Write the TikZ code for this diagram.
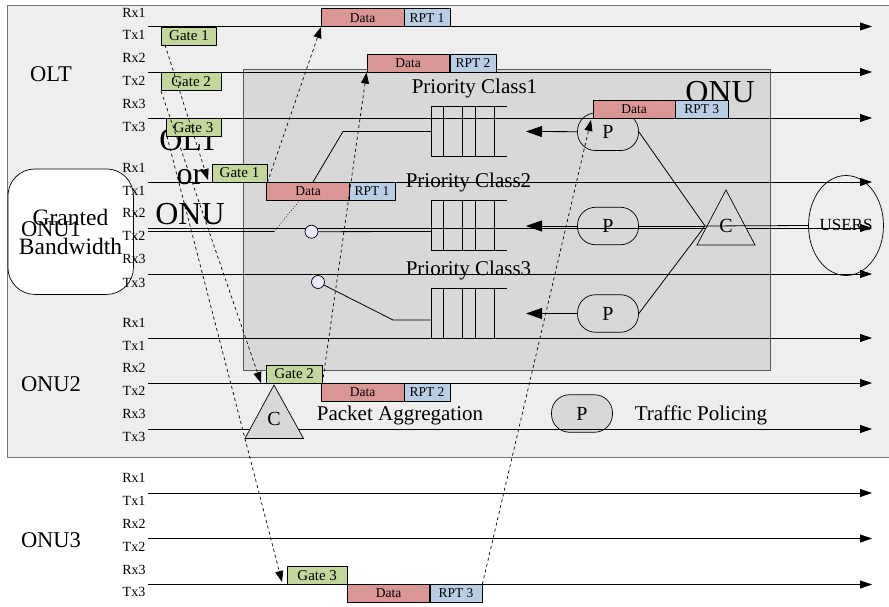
\documentclass[tikz,border=0pt]{standalone}
\usepackage{fontspec}
\setmainfont{Liberation Serif}
\usetikzlibrary{arrows.meta, shapes.geometric}
\definecolor{panelgray}{HTML}{EEEEEE}
\definecolor{onugray}{HTML}{D8D8D8}
\definecolor{gatefill}{HTML}{C3D69B}
\definecolor{datafill}{HTML}{D99694}
\definecolor{rptfill}{HTML}{B9CDE5}
\tikzset{
  txt/.style={inner sep=0pt, font=\fontsize{21}{23}\selectfont, align=center},
  titletxt/.style={inner sep=0pt, font=\fontsize{22.5}{24}\selectfont},
  bigtxt/.style={inner sep=0pt, font=\fontsize{32}{34}\selectfont},
  rowtxt/.style={inner sep=0pt, font=\fontsize{14}{15}\selectfont},
  timeline/.style={line width=0.8pt, -{Triangle[length=12pt,width=8pt]}},
  gatebox/.style={draw, line width=0.8pt, fill=gatefill, inner sep=0pt, minimum height=18pt, font=\fontsize{15}{16}\selectfont},
  databox/.style={draw, line width=0.8pt, fill=datafill, inner sep=0pt, minimum height=18pt, minimum width=82.5pt, font=\fontsize{13.5}{15}\selectfont},
  rptbox/.style={draw, line width=0.8pt, fill=rptfill, inner sep=0pt, minimum height=18pt, font=\fontsize{13.5}{15}\selectfont},
  policer/.style={draw, line width=0.7pt, rounded corners=18pt, inner sep=0pt, minimum width=61pt, minimum height=37.5pt, font=\fontsize{20}{22}\selectfont},
  combiner/.style={draw, line width=0.7pt, fill=onugray},
  msgarrow/.style={dashed, line width=0.7pt, -{Triangle[length=11pt,width=8pt]}},
  heavy/.style={line width=0.8pt, -{Triangle[length=16pt,width=11pt]}}
}
\begin{document}
\begin{tikzpicture}[x = {(1pt, 0pt)}, y={(0pt, -1pt)}]
  \useasboundingbox (0, 0) rectangle (889, 607);

  \node[draw=black!55, line width=0.8pt, fill=panelgray, minimum width=890pt, minimum height=452pt, inner sep=0pt] (olt) at (452.5, 231.5) {};
  \node[draw=black!65, line width=0.8pt, fill=onugray, minimum width=527pt, minimum height=301pt, inner sep=0pt] (onu) at (506.5, 219.5) {};

  % legend pill sits under the line
  \node[policer, fill=onugray] (p4) at (582, 413.5) {P};

  \node[titletxt] (titleolt) at (51, 74) {OLT};
  \node[rounded corners=27pt, draw, line width=0.7pt, fill=white, minimum width=125.5pt, minimum height=125.5pt] (grant) at (70.7, 231.7) {};
  \node[titletxt] (titleonu1) at (51, 229) {ONU1};
  \node[txt, font=\fontsize{23.5}{29}\selectfont] (granted) at (70.5, 232) {Granted\\Bandwidth};
  \node[titletxt] (titleonu2) at (51, 384) {ONU2};
  \node[titletxt] (titleonu3) at (51, 540) {ONU3};

  \node[bigtxt] (bigolt) at (189, 140) {OLT};
  \node[bigtxt] (bigor) at (190, 177) {or};
  \node[bigtxt] (bigonu) at (190, 214) {ONU};
  \node[bigtxt] (bigonub) at (720, 92) {ONU};

  % rows
  \foreach \i/\yy in {1/26.5, 2/72, 3/118, 4/182, 5/228, 6/274, 7/338, 8/383, 9/429, 10/493, 11/538.5, 12/584.5} {
    \coordinate (ts\i) at (148, \yy);
    \coordinate (te\i) at (872, \yy);
    \draw[timeline] (ts\i) -- (te\i);
  }
  \foreach \i/\yy/\lab in {1/13/Rx1, 2/35/Tx1, 3/58/Rx2, 4/81/Tx2, 5/104/Rx3, 6/127/Tx3,
      7/168/Rx1, 8/191/Tx1, 9/213/Rx2, 10/236/Tx2, 11/259/Rx3, 12/283/Tx3,
      13/323/Rx1, 14/346/Tx1, 15/368/Rx2, 16/391/Tx2, 17/414/Rx3, 18/437/Tx3,
      19/478/Rx1, 20/501/Tx1, 21/524/Rx2, 22/547/Tx2, 23/570/Rx3, 24/592/Tx3} {
    \node[rowtxt] (r\i) at (134, \yy) {\lab};
  }

  % queues
  \foreach \i/\tp/\bt in {1/106/156.5, 2/200/250.5, 3/288/338} {
    \draw[line width=0.8pt] (507, \tp) -- (431, \tp) -- (431, \bt) -- (507, \bt);
    \foreach \xx in {443.7, 462.3, 475, 494.3} {
      \draw[line width=0.8pt] (\xx, \tp) -- (\xx, \bt);
    }
  }
  \coordinate (q1) at (431, 131.5);
  \coordinate (q2) at (431, 231.5);
  \coordinate (q3) at (431, 320);
  \coordinate (a1) at (526, 131.5);
  \coordinate (a2) at (526, 226);
  \coordinate (a3) at (526, 313.5);

  \node[txt] (class1) at (474.5, 88.5) {Priority Class1};
  \node[txt] (class2) at (468.5, 182.5) {Priority Class2};
  \node[txt] (class3) at (468.5, 270.5) {Priority Class3};
  \node[txt] (aggr) at (400, 415) {Packet Aggregation};
  \node[txt] (traffic) at (701, 415) {Traffic Policing};

  % ONU inner paths
  \node[policer] (p1) at (608, 131.8) {P};
  \node[policer] (p2) at (608, 226) {P};
  \node[policer] (p3) at (608, 313.5) {P};
  \draw[heavy] (p1) -- (a1);
  \draw[heavy] (p2) -- (a2);
  \draw[heavy] (p3) -- (a3);

  \coordinate (b1) at (313, 182);
  \coordinate (b2) at (343, 131.5);
  \draw[line width=0.8pt] (b1) -- (b2) -- (q1);

  \coordinate (s1) at (148, 231.7);
  \coordinate (s2) at (274, 231.7);
  \coordinate (s3) at (300, 200);
  \draw[line width=0.8pt] (s1) -- (s2);
  \draw[dotted, line width=0.7pt] (s2) -- (s3);
  \node[circle, draw, line width=0.7pt, fill=blue!8, minimum size=13pt, inner sep=0pt] (sw1) at (311.5, 231.7) {};
  \draw[line width=0.8pt] (sw1) -- (q2);
  \node[circle, draw, line width=0.7pt, fill=blue!8, minimum size=13pt, inner sep=0pt] (sw2) at (318, 282) {};
  \coordinate (b3) at (393, 320);
  \draw[line width=0.8pt] (sw2) -- (b3) -- (q3);

  \coordinate (c1) at (705, 226);
  \draw[line width=0.8pt] (p1.east) -- (c1);
  \draw[line width=0.8pt] (p2.east) -- (c1);
  \draw[line width=0.8pt] (p3.east) -- (c1);

  \draw[combiner] (726, 190) coordinate (t1) -- (755, 245) coordinate (t2) -- (697, 245) coordinate (t3) -- cycle;
  \node[txt, font=\fontsize{20}{22}\selectfont] (clab1) at (726, 225.5) {C};
  \node[draw, ellipse, line width=0.7pt, minimum width=75pt, minimum height=100pt, inner sep=0pt] (users) at (846, 225.5) {};
  \node[inner sep=0pt, font=\fontsize{17}{18}\selectfont] (userlab) at (846, 225) {USERS};
  \draw[line width=0.8pt] (c1) -- (users.west);

  \draw[combiner] (274, 385) coordinate (t4) -- (303.5, 438.5) coordinate (t5) -- (245, 438.5) coordinate (t6) -- cycle;
  \node[txt, font=\fontsize{20}{22}\selectfont] (clab2) at (274, 419) {C};

  % gates
  \node[gatebox, minimum width=55pt] (g1) at (189, 36) {Gate 1};
  \node[gatebox, minimum width=59.5pt] (g2) at (191.2, 81.8) {Gate 2};
  \node[gatebox, minimum width=55pt] (g3) at (193.5, 127.2) {Gate 3};
  \node[gatebox, minimum width=55pt] (g4) at (239.5, 173) {Gate 1};
  \node[gatebox, minimum width=55.5pt] (g5) at (294.2, 374) {Gate 2};
  \node[gatebox, minimum width=59.5pt] (g6) at (317.2, 575.2) {Gate 3};

  % data
  \node[databox] (d1) at (362.7, 17.7) {Data};
  \node[rptbox, minimum width=46pt] (m1) at (427, 17.7) {RPT 1};
  \node[databox] (d2) at (408.2, 63.2) {Data};
  \node[rptbox, minimum width=46pt] (m2) at (473, 63.2) {RPT 2};
  \node[databox] (d3) at (634.2, 109) {Data};
  \node[rptbox, minimum width=52.5pt] (m3) at (701.7, 109) {RPT 3};
  \node[databox] (d4) at (308, 191) {Data};
  \node[rptbox, minimum width=46pt] (m4) at (372, 191) {RPT 1};
  \node[databox] (d5) at (362.7, 392) {Data};
  \node[rptbox, minimum width=46pt] (m5) at (427, 392) {RPT 2};
  \node[databox] (d6) at (388.5, 593.5) {Data};
  \node[rptbox, minimum width=52pt] (m6) at (456, 593.5) {RPT 3};

  % messages
  \coordinate (g1s) at (165, 45);
  \coordinate (g4t) at (208, 180);
  \coordinate (g5t) at (261, 383);
  \coordinate (g3s) at (167, 136.5);
  \coordinate (g6t) at (282, 582);
  \coordinate (d3t) at (591, 120);
  \draw[msgarrow] (g1s) -- (g4t);
  \draw[msgarrow] (g2.south west) -- (g5t);
  \draw[msgarrow] (g3s) -- (g6t);
  \draw[msgarrow] (g4.south east) -- (d1.south west);
  \draw[msgarrow] (g5.south east) -- (d2.south west);
  \draw[msgarrow] (m6.north east) -- (d3t);
\end{tikzpicture}
\end{document}
